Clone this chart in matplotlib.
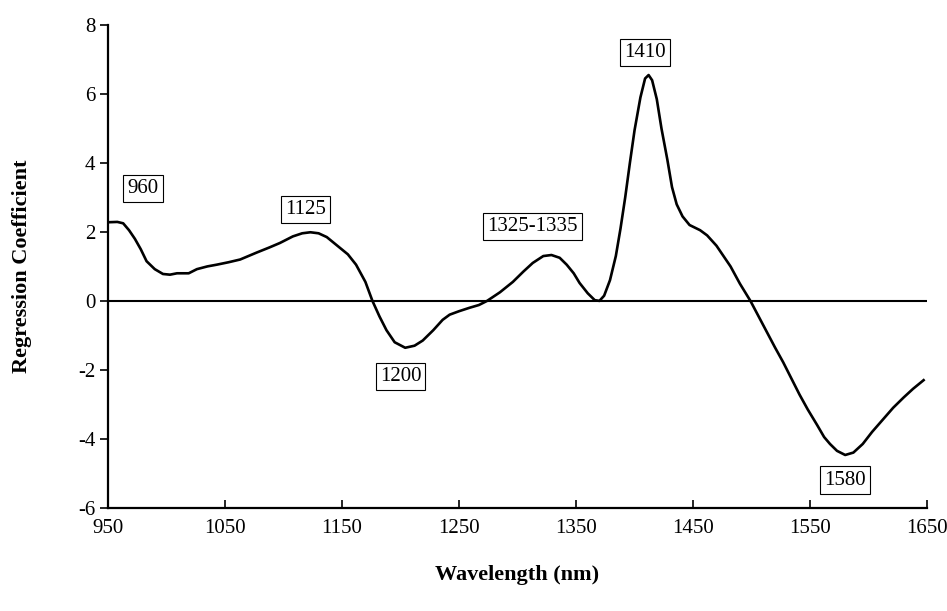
import matplotlib.pyplot as plt

# regression coefficients across the NIR range
wavelength = [950, 958, 963, 968, 973, 978, 983, 990, 997, 1003, 1009, 1014, 1019, 1026,
              1035, 1043, 1053, 1063, 1077, 1088, 1097, 1108, 1116, 1123, 1130, 1137,
              1146, 1155, 1162, 1170, 1176, 1182, 1188, 1195, 1204, 1212, 1219, 1228,
              1236, 1242, 1250, 1259, 1267, 1274, 1285, 1296, 1305, 1313, 1322, 1329,
              1336, 1342, 1348, 1353, 1360, 1366, 1370, 1374, 1379, 1384, 1388, 1392,
              1396, 1400, 1405, 1409, 1412, 1415, 1419, 1423, 1428, 1432, 1436, 1441,
              1447, 1456, 1462, 1470, 1476, 1482, 1490, 1499, 1506, 1513, 1520, 1527,
              1534, 1541, 1548, 1556, 1562, 1567, 1573, 1580, 1587, 1595, 1603, 1612,
              1621, 1630, 1638, 1647]
coef = [2.28, 2.29, 2.25, 2.05, 1.8, 1.5, 1.15, 0.92, 0.78, 0.76, 0.8, 0.8, 0.8, 0.92,
        1.0, 1.05, 1.12, 1.2, 1.4, 1.55, 1.68, 1.87, 1.96, 1.99, 1.96, 1.85,
        1.6, 1.35, 1.05, 0.55, 0.0, -0.45, -0.85, -1.2, -1.36, -1.3, -1.15, -0.85,
        -0.55, -0.4, -0.3, -0.2, -0.12, 0.0, 0.25, 0.55, 0.85, 1.1, 1.3, 1.33,
        1.25, 1.05, 0.8, 0.52, 0.22, 0.02, 0.0, 0.15, 0.6, 1.3, 2.1, 3.0,
        4.0, 4.95, 5.9, 6.45, 6.55, 6.4, 5.85, 5.0, 4.1, 3.3, 2.8, 2.45,
        2.2, 2.05, 1.9, 1.6, 1.3, 1.0, 0.5, 0.0, -0.45, -0.9, -1.35, -1.78,
        -2.25, -2.72, -3.15, -3.6, -3.95, -4.15, -4.35, -4.47, -4.4, -4.15, -3.8, -3.45,
        -3.1, -2.8, -2.55, -2.3]

# band annotations: text, x, y
band_labels = ["960", "1125", "1200", "1325-1335", "1410", "1580"]
band_x = [980, 1119, 1200, 1313, 1409, 1580]
band_y = [3.25, 2.65, -2.2, 2.15, 7.2, -5.2]

plt.rcParams['font.family'] = ['Liberation Serif', 'DejaVu Serif']
plt.rcParams['axes.unicode_minus'] = False

fig = plt.figure(figsize=(9.47, 6.11), dpi=100)
ax = fig.add_axes([0.114, 0.169, 0.865, 0.79])

ax.plot(wavelength, coef, color='black', lw=1.9, solid_joinstyle='round')
ax.axhline(0, color='black', lw=1.5)

for txt, x, y in zip(band_labels, band_x, band_y):
    ax.text(x, y, txt, ha='center', va='center', fontsize=15,
            bbox=dict(boxstyle='square,pad=0.2', fc='white', ec='black', lw=0.8))

ax.set_xlim(950, 1650)
ax.set_ylim(-6, 8)
ax.set_xticks(range(950, 1651, 100))
ax.set_yticks(range(-6, 9, 2))
ax.tick_params(axis='x', direction='in', length=6, width=1.2, labelsize=15, pad=8)
ax.tick_params(axis='y', direction='out', length=6, width=1.2, labelsize=15, pad=3)

for s in ['top', 'right']:
    ax.spines[s].set_visible(False)
for s in ['left', 'bottom']:
    ax.spines[s].set_linewidth(1.6)

ax.set_xlabel('Wavelength (nm)', fontsize=16, fontweight='bold')
ax.set_ylabel('Regression Coefficient', fontsize=16, fontweight='bold')
ax.xaxis.set_label_coords(0.5, -0.118)
ax.yaxis.set_label_coords(-0.093, 0.5)

fig.savefig('out.png', dpi=100)
